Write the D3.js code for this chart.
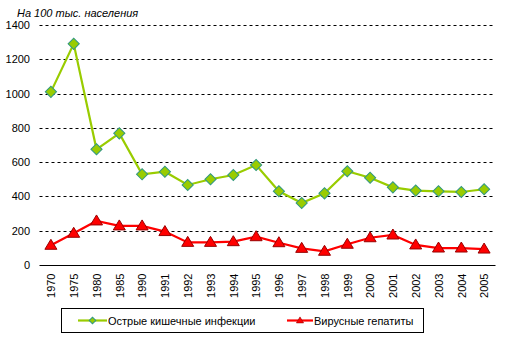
<!DOCTYPE html>
<html><head><meta charset="utf-8">
<script src="https://cdn.jsdelivr.net/npm/d3@7"></script>
<style>body{margin:0;background:#fff}svg{display:block}text{font-family:Arial,"Liberation Sans",sans-serif}</style>
</head><body>
<script>
const years = ["1970","1975","1980","1985","1990","1991","1992","1993","1994","1995","1996","1997","1998","1999","2000","2001","2002","2003","2004","2005"];
const intestinal = [1010,1290,675,768,529,544,467,500,525,583,430,362,418,547,509,453,434,430,426,442];
const hepatitis = [115,185,257,228,228,195,132,132,136,165,130,97,80,121,159,175,117,99,99,93];
const yTicks = [0,200,400,600,800,1000,1200,1400];
const seriesNames = ["Острые кишечные инфекции","Вирусные гепатиты"];
const yTitle = "На 100 тыс. населения";

const W=511,H=340;
const svg=d3.select("body").append("svg").attr("width",W).attr("height",H);
const x=d3.scalePoint().domain(years).range([39.5,495.5]).padding(0.5);
const y=d3.scaleLinear().domain([0,1400]).range([265,25]);

// gridlines
svg.append("g").selectAll("line").data(yTicks.filter(d=>d>0)).join("line")
  .attr("x1",39.5).attr("x2",495.5).attr("y1",d=>Math.round(y(d))+0.5).attr("y2",d=>Math.round(y(d))+0.5)
  .attr("stroke","#000").attr("stroke-dasharray","3,3");
// y labels
svg.append("g").selectAll("text").data(yTicks).join("text")
  .attr("x",30).attr("y",d=>y(d)+4).attr("text-anchor","end").attr("font-size",11).text(d=>d);
// x axis
const xa=svg.append("g").attr("transform","translate(0,265.5)").call(d3.axisBottom(x).tickSize(0).tickSizeOuter(0));
xa.select(".domain").attr("stroke","#000").attr("d","M39.5,0H495.5");
xa.selectAll("text").attr("font-size",11).attr("font-family","Arial,'Liberation Sans',sans-serif").attr("fill","#000")
  .attr("transform","rotate(-90)").attr("text-anchor","end").attr("x",-8).attr("y",0).attr("dy","0.35em");
// title
svg.append("text").attr("x",17).attr("y",17).attr("font-size",11).attr("font-style","italic").text(yTitle);

const line=d3.line().x((d,i)=>x(years[i])).y(d=>y(d));
svg.append("path").datum(intestinal).attr("d",line).attr("fill","none").attr("stroke","#99CC00").attr("stroke-width",2.2);
svg.append("path").datum(hepatitis).attr("d",line).attr("fill","none").attr("stroke","#FF0000").attr("stroke-width",2.2);

const tri="M0,-6L6,4L-6,4Z";
svg.append("g").selectAll("path").data(intestinal).join("path")
  .attr("transform",(d,i)=>`translate(${x(years[i])},${y(d)}) rotate(45) scale(1.05)`)
  .attr("d",d3.symbol().type(d3.symbolSquare).size(56)())
  .attr("fill","#99CC00").attr("stroke","#339980").attr("stroke-width",1);
svg.append("g").selectAll("path").data(hepatitis).join("path")
  .attr("transform",(d,i)=>`translate(${x(years[i])},${y(d)})`)
  .attr("d",tri).attr("fill","#FF0000").attr("stroke","#990000").attr("stroke-width",1);

// legend
const lg=svg.append("g");
lg.append("rect").attr("x",61.5).attr("y",308.5).attr("width",362).attr("height",24).attr("fill","#fff").attr("stroke","#000");
const ly=320.5;
lg.append("line").attr("x1",78).attr("x2",107).attr("y1",ly).attr("y2",ly).attr("stroke","#99CC00").attr("stroke-width",2.2);
lg.append("path").attr("transform",`translate(92.5,${ly}) rotate(45)`).attr("d",d3.symbol().type(d3.symbolSquare).size(22)()).attr("fill","#99CC00").attr("stroke","#339980");
lg.append("text").attr("x",108).attr("y",ly+4).attr("font-size",11).text(seriesNames[0]);
lg.append("line").attr("x1",287).attr("x2",313).attr("y1",ly).attr("y2",ly).attr("stroke","#FF0000").attr("stroke-width",2.2);
lg.append("path").attr("transform",`translate(300,${ly}) scale(0.6)`).attr("d",tri).attr("fill","#FF0000").attr("stroke","#990000");
lg.append("text").attr("x",314).attr("y",ly+4).attr("font-size",11).text(seriesNames[1]);
</script>
</body></html>
